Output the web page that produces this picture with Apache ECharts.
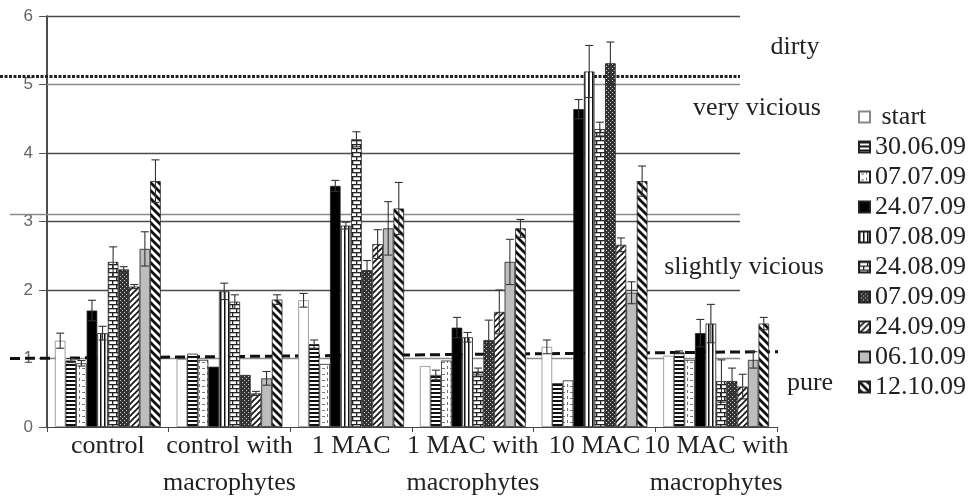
<!DOCTYPE html>
<html>
<head>
<meta charset="utf-8">
<script src="https://cdn.jsdelivr.net/npm/echarts@6/dist/echarts.min.js"></script>
<style>html,body{margin:0;padding:0;background:#fff;}#c{width:971px;height:502px;}</style>
</head>
<body>
<div id="c"></div>
<script>
// ---------- data ----------
const categories = ['control', 'control with\nmacrophytes', '1 MAC', '1 MAC with\nmacrophytes', '10 MAC', '10 MAC with\nmacrophytes'];
const seriesNames = ['start', '30.06.09', '07.07.09', '24.07.09', '07.08.09', '24.08.09', '07.09.09', '24.09.09', '06.10.09', '12.10.09'];

const vStart = [1.26, 0.99, 1.85, 0.89, 1.17, 1.04];
const v3006  = [0.97, 1.07, 1.21, 0.76, 0.64, 1.09];
const v0707  = [0.93, 0.98, 0.92, 0.97, 0.68, 0.98];
const v2407  = [1.70, 0.88, 3.52, 1.45, 4.64, 1.37];
const v0708  = [1.37, 1.98, 2.94, 1.31, 5.19, 1.51];
const v2408  = [2.41, 1.83, 4.20, 0.81, 4.35, 0.67];
const v0709  = [2.30, 0.76, 2.29, 1.27, 5.31, 0.67];
const v2409  = [2.05, 0.49, 2.67, 1.68, 2.66, 0.59];
const v0610  = [2.60, 0.71, 2.90, 2.41, 1.96, 0.98];
const v1210  = [3.59, 1.86, 3.19, 2.90, 3.59, 1.51];

const eStart = [0.11, 0.00, 0.10, 0.00, 0.10, 0.00];
const e3006  = [0.03, 0.00, 0.06, 0.07, 0.00, 0.02];
const e0707  = [0.04, 0.00, 0.00, 0.00, 0.00, 0.00];
const e2407  = [0.15, 0.00, 0.08, 0.15, 0.14, 0.20];
const e0708  = [0.10, 0.12, 0.05, 0.07, 0.38, 0.28];
const e2408  = [0.22, 0.10, 0.11, 0.05, 0.10, 0.31];
const e0709  = [0.04, 0.00, 0.14, 0.29, 0.31, 0.19];
const e2409  = [0.03, 0.03, 0.21, 0.32, 0.10, 0.18];
const e0610  = [0.25, 0.10, 0.39, 0.33, 0.16, 0.12];
const e1210  = [0.31, 0.07, 0.38, 0.13, 0.22, 0.09];

const yTicks = [0, 1, 2, 3, 4, 5, 6];
const classLevels = [6, 5, 4, 3.1, 3, 2, 1];   // class boundaries (solid)
const dirtyLevel = 5.12;                        // dotted boundary
const pureLevel = [1.0, 1.1];                   // dashed boundary (left, right)
const classNames = ['dirty', 'very vicious', 'slightly vicious', 'pure'];

const values = [vStart, v3006, v0707, v2407, v0708, v2408, v0709, v2409, v0610, v1210];
const errors = [eStart, e3006, e0707, e2407, e0708, e2408, e0709, e2409, e0610, e1210];

// ---------- patterns ----------
function mk(w, h, bg, draw) {
  const c = document.createElement('canvas');
  c.width = w; c.height = h;
  const g = c.getContext('2d');
  g.fillStyle = bg; g.fillRect(0, 0, w, h);
  if (draw) draw(g);
  return { image: c, repeat: 'repeat' };
}
const fills = [
  '#ffffff',
  mk(4, 4, '#fff', g => { g.fillStyle = '#111'; g.fillRect(0, 0, 4, 2); }),
  mk(8, 6, '#fff', g => { g.fillStyle = '#777'; g.fillRect(2, 2, 3, 1); g.fillRect(7, 0, 1, 3); }),
  '#000000',
  mk(4, 4, '#fff', g => { g.fillStyle = '#111'; g.fillRect(0, 0, 1.5, 4); }),
  mk(8, 8, '#fff', g => { g.fillStyle = '#222'; g.fillRect(0, 0, 8, 1.3); g.fillRect(0, 4, 8, 1.3); g.fillRect(0, 0, 1.3, 4); g.fillRect(4, 4, 1.3, 4); }),
  mk(4, 4, '#333', g => { g.fillStyle = '#ccc'; g.fillRect(0, 0, 1, 1); g.fillRect(2, 2, 1, 1); }),
  mk(6, 6, '#fff', g => { g.strokeStyle = '#111'; g.lineWidth = 1.6; g.beginPath(); g.moveTo(0, 6); g.lineTo(6, 0); g.moveTo(-1, 1); g.lineTo(1, -1); g.moveTo(5, 7); g.lineTo(7, 5); g.stroke(); }),
  '#bdbdbd',
  mk(8, 8, '#fff', g => { g.strokeStyle = '#111'; g.lineWidth = 2.8; g.beginPath(); g.moveTo(0, 0); g.lineTo(8, 8); g.moveTo(-2, 6); g.lineTo(2, 10); g.moveTo(6, -2); g.lineTo(10, 2); g.stroke(); })
];

const CAT_GAP = 0.13;
const serif = '"Liberation Serif", "Times New Roman", serif';

// ---------- build series ----------
const series = seriesNames.map((name, i) => ({
  name: name,
  type: 'bar',
  data: values[i],
  barGap: '0%',
  barCategoryGap: (CAT_GAP * 100) + '%',
  itemStyle: { color: fills[i], borderColor: i === 0 ? '#888' : '#222', borderWidth: 0.8 },
  emphasis: { disabled: true },
  z: 3
}));

// reference lines
const solidStyle = v => ({ color: (v === 5 || v === 3.1 || v === 1) ? '#8a8a8a' : '#4a4a4a', width: 1.3, type: 'solid' });
const mlData = classLevels.map(v => [
  { x: (v === 3.1 ? 10 : 47), yAxis: v, lineStyle: solidStyle(v) },
  { x: 740, yAxis: v }
]);
mlData.push([{ x: 0, yAxis: dirtyLevel, lineStyle: { color: '#222', width: 3, type: [3, 1.5] } }, { x: 740, yAxis: dirtyLevel }]);
mlData.push([{ x: 10, yAxis: pureLevel[0], lineStyle: { color: '#111', width: 3, type: [10, 5] } }, { x: 778, yAxis: pureLevel[1] }]);
series[0].markLine = { silent: true, symbol: ['none', 'none'], label: { show: false }, animation: false, data: mlData, z: 2 };

// error bars
const errData = [];
values.forEach((arr, si) => arr.forEach((v, ci) => {
  if (errors[si][ci] > 0) errData.push([ci, v, errors[si][ci], si]);
}));
series.push({
  type: 'custom',
  name: 'err',
  data: errData,
  encode: { x: 0, y: 1 },
  z: 5,
  silent: true,
  renderItem: function (params, api) {
    const ci = api.value(0), v = api.value(1), e = api.value(2), si = api.value(3);
    const c = api.coord([ci, v]);
    const band = api.size([1, 0])[0];
    const gw = band * (1 - CAT_GAP);
    const bw = gw / seriesNames.length;
    const x = c[0] - gw / 2 + (si + 0.5) * bw;
    const yT = api.coord([ci, v + e])[1];
    const yB = api.coord([ci, v - e])[1];
    const st = { stroke: '#333', lineWidth: 1.1 };
    return {
      type: 'group',
      children: [
        { type: 'line', shape: { x1: x, y1: yT, x2: x, y2: yB }, style: st },
        { type: 'line', shape: { x1: x - 4, y1: yT, x2: x + 4, y2: yT }, style: st },
        { type: 'line', shape: { x1: x - 4, y1: yB, x2: x + 4, y2: yB }, style: st }
      ]
    };
  }
});

const labelPos = [[795, 47], [757, 108], [744, 267], [810, 383]];

const option = {
  animation: false,
  backgroundColor: '#fff',
  grid: { left: 47, right: 194, top: 16, bottom: 72, containLabel: false },
  legend: {
    data: seriesNames,
    orient: 'vertical',
    left: 853, top: 99,
    itemWidth: 11, itemHeight: 11, itemGap: 4,
    icon: 'rect',
    selectedMode: false,
    formatter: n => (n === 'start' ? ' start' : n),
    textStyle: { fontFamily: serif, fontSize: 26, color: '#222', lineHeight: 26 }
  },
  xAxis: {
    type: 'category',
    data: categories,
    axisLine: { lineStyle: { color: '#444', width: 1.2 } },
    axisTick: { show: true, alignWithLabel: false, length: 5, lineStyle: { color: '#444' } },
    axisLabel: { interval: 0, fontFamily: serif, fontSize: 26, color: '#222', lineHeight: 37, margin: 1 },
    splitLine: { show: false }
  },
  yAxis: {
    type: 'value',
    min: yTicks[0], max: yTicks[yTicks.length - 1], interval: 1,
    axisLine: { show: true, lineStyle: { color: '#111', width: 1.5 } },
    axisTick: { show: true, length: 8, lineStyle: { color: '#555' } },
    axisLabel: { fontFamily: '"Liberation Sans", Arial, sans-serif', fontSize: 17, color: '#666', margin: 14 },
    splitLine: { show: false }
  },
  graphic: classNames.map((t, i) => ({
    type: 'text', x: labelPos[i][0], y: labelPos[i][1], z: 10,
    style: { text: t, font: '26px ' + serif, fill: '#222', align: 'center', verticalAlign: 'middle', textAlign: 'center', textVerticalAlign: 'middle' }
  })),
  series: series
};

const chart = echarts.init(document.getElementById('c'), null, { renderer: 'canvas' });
chart.setOption(option);
</script>
</body>
</html>
